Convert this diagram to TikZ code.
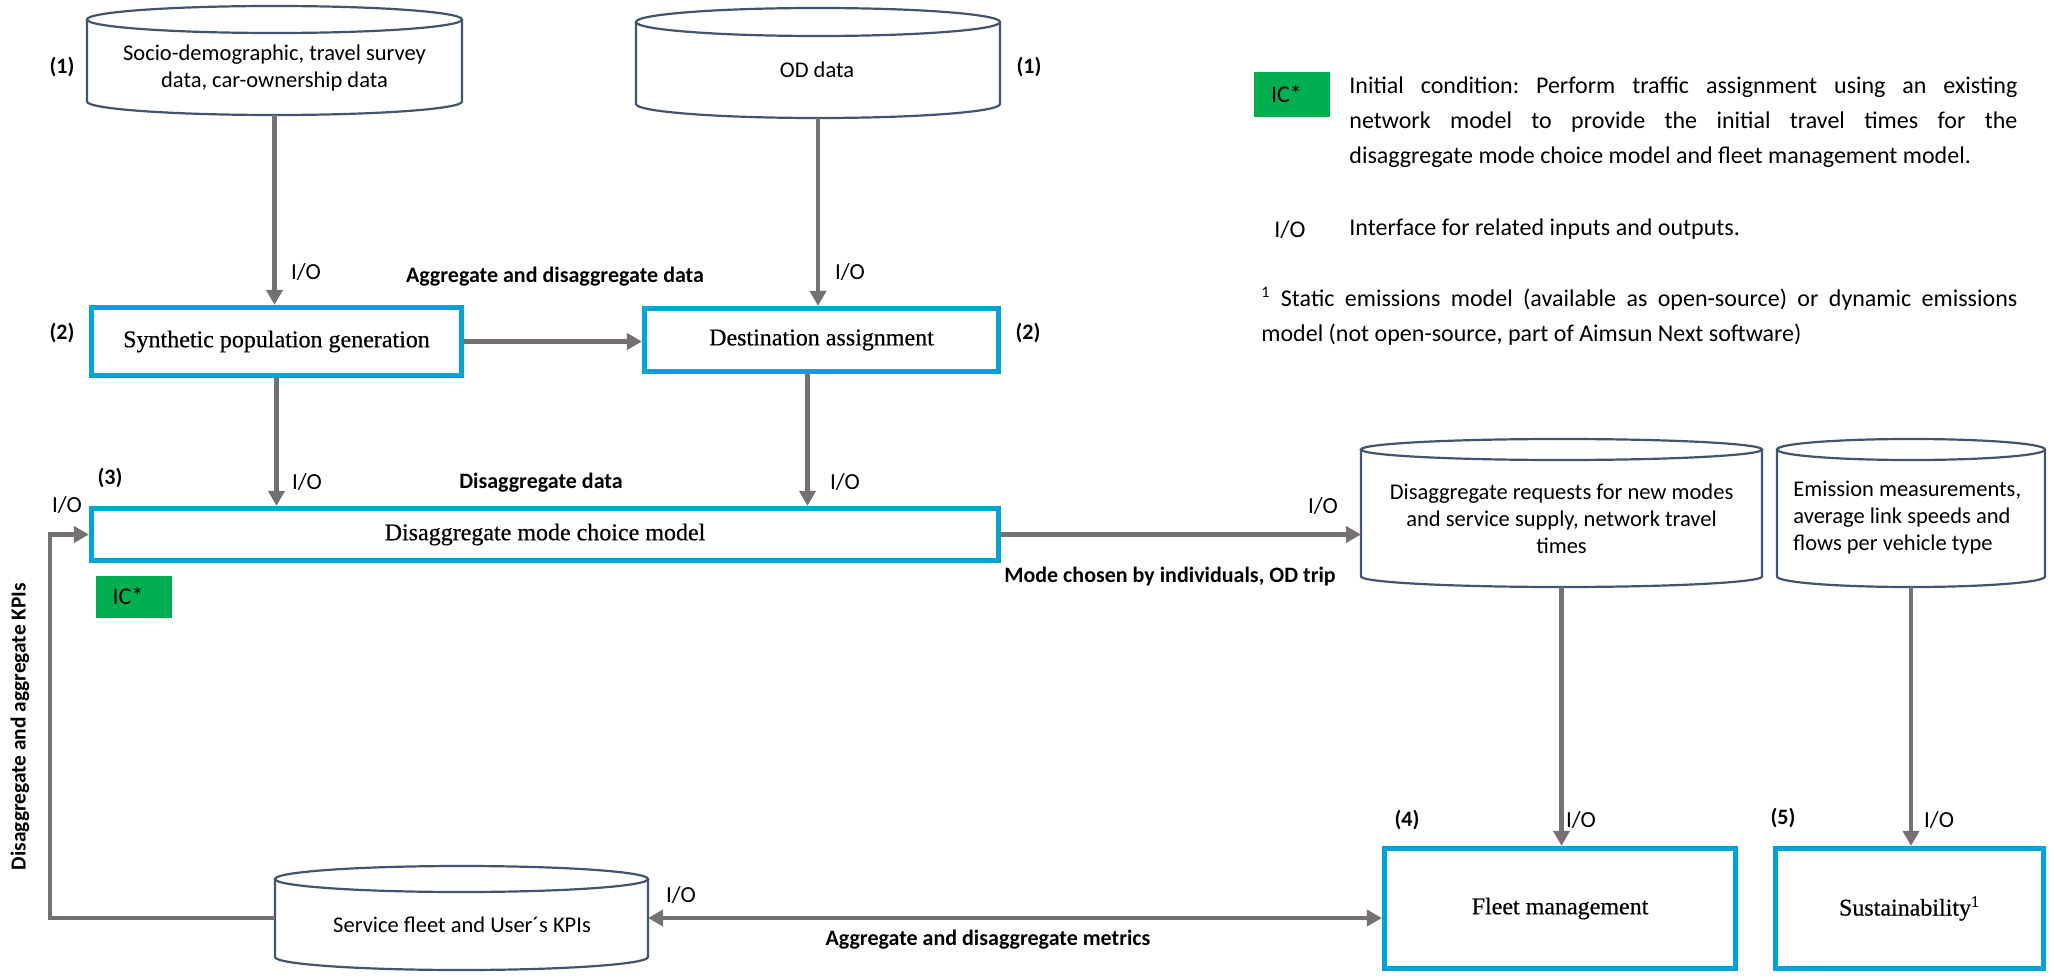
\documentclass[tikz,border=0pt]{standalone}
\usepackage{fontspec}
\setmainfont{Carlito}
\newfontfamily\boxserif{Liberation Serif}[FakeBold=0.5]
\usetikzlibrary{arrows.meta,fit}
\frenchspacing

\definecolor{boxblue}{RGB}{0,165,214}
\definecolor{flowgray}{RGB}{118,113,113}
\definecolor{cylblue}{RGB}{68,84,106}
\definecolor{icgreen}{RGB}{0,176,80}

% data store drawn as a cylinder: name, left, right, top, bottom, cap radius (px, y downward)
\newcommand{\datacyl}[6]{%
  \coordinate (#1-nw) at (#2,-#4);
  \coordinate (#1-se) at (#3,-#5);
  \node[fit=(#1-nw)(#1-se),inner sep=0pt,outer sep=0pt] (#1) {};
  \draw[cylline] (#2,{-(#4+#6)}) -- (#2,{-(#5-#6)})
    arc[start angle=180,end angle=360,x radius={(#3-#2)/2},y radius=#6]
    -- (#3,{-(#4+#6)});
  \draw[cylline] ({(#2+#3)/2},{-(#4+#6)}) ellipse[x radius={(#3-#2)/2},y radius=#6];
}

\begin{document}
\begin{tikzpicture}[x=0.5pt,y=0.5pt,
  module/.style={draw=boxblue,line width=2.6pt,fill=white,inner sep=0pt,
    font=\boxserif\fontsize{12}{14}\selectfont},
  cylline/.style={draw=cylblue,line width=1.1pt},
  cyltext/.style={font=\fontsize{11.25}{13.5}\selectfont,align=center,inner sep=0pt},
  flow/.style={draw=flowgray,line width=2.3pt,-{Triangle[length=7.5pt,width=8pt]}},
  flowboth/.style={draw=flowgray,line width=2.3pt,
    {Triangle[length=7.5pt,width=8pt]}-{Triangle[length=7.5pt,width=8pt]}},
  stage/.style={font=\bfseries\fontsize{11}{13}\selectfont,inner sep=0pt},
  iolabel/.style={font=\fontsize{11.5}{13}\selectfont,inner sep=0pt},
  flowlabel/.style={font=\bfseries\fontsize{11}{13}\selectfont,inner sep=0pt},
  icbox/.style={fill=icgreen,font=\fontsize{12}{14}\selectfont,align=left,
    inner ysep=0pt,inner xsep=8.5pt,text width=21pt,minimum height=21pt},
  legend/.style={font=\fontsize{12}{17.5}\selectfont,inner sep=0pt},
]
\fill[white] (0,0) rectangle (2054,-978);
\useasboundingbox (0,0) rectangle (2054,-978);

% ---------- data stores ----------
\datacyl{soc}{87}{462}{6}{115}{13.5}
\node[cyltext] (soc-text) at (274.5,-68.5) {Socio-demographic, travel survey\\data, car-ownership data};

\datacyl{od}{636}{1000}{8}{118}{14}
\node[cyltext] (od-text) at (817,-70) {OD data};

\datacyl{req}{1361}{1762}{439}{587}{10.5}
\node[cyltext] (req-text) at (1561.5,-519) {Disaggregate requests for new modes\\and service supply, network travel\\times};

\datacyl{emis}{1777}{2045}{439}{587}{10.5}
\node[cyltext,align=left,anchor=west] (emis-text) at (1793,-518) {Emission measurements,\\average link speeds and\\flows per vehicle type};

\datacyl{svc}{275}{648}{866}{970}{13}
\node[cyltext] (svc-text) at (462,-925) {Service fleet and User´s KPIs};

% ---------- model modules ----------
\node[module,minimum width=185pt,minimum height=34pt] (synth) at (276.5,-341.5) {Synthetic population generation};
\node[module,minimum width=177pt,minimum height=31.5pt] (dest) at (821.5,-340) {Destination assignment};
\node[module,minimum width=453.5pt,minimum height=26pt] (mode) at (545,-534.5) {Disaggregate mode choice model};
\node[module,minimum width=175.5pt,minimum height=60pt] (fleet) at (1560,-908.5) {Fleet management};
\node[module,minimum width=134pt,minimum height=60pt] (sust) at (1909.5,-908.5) {Sustainability\textsuperscript{1}};

\node[icbox] (ic-mode) at (133.5,-596.5) {IC*};

% ---------- stage numbers ----------
\node[stage] (n1a) at (62,-67) {(1)};
\node[stage] (n1b) at (1029,-67) {(1)};
\node[stage] (n2a) at (62,-333) {(2)};
\node[stage] (n2b) at (1028,-333) {(2)};
\node[stage] (n3) at (110,-478) {(3)};
\node[stage] (n4) at (1407,-820) {(4)};
\node[stage] (n5) at (1783,-818) {(5)};

% ---------- connectors ----------
\draw[flow] (soc.south) -- (soc.south |- synth.north);
\draw[flow] (od.south) -- (od.south |- dest.north);
\draw[flow] (synth.east) -- (synth.east -| dest.west);
\draw[flow] (synth.south) -- (synth.south |- mode.north);
\draw[flow] ([xshift=-7pt]dest.south) -- ([xshift=-7pt]dest.south |- mode.north);
\draw[flow] (mode.east) -- (mode.east -| req.west);
\draw[flow] (req.south) -- (req.south |- fleet.north);
\draw[flow] (emis.south) -- (emis.south |- sust.north);
\draw[flowboth] (svc.east) -- (svc.east -| fleet.west);
\coordinate (kpiturn) at (50,-918);
\draw[flow] (svc.west) -- (svc.west -| kpiturn) |- (mode.west);

% ---------- interface labels ----------
\node[iolabel] (io1) at (306,-272) {I/O};
\node[iolabel] (io2) at (850,-272) {I/O};
\node[iolabel] (io3) at (307,-482) {I/O};
\node[iolabel] (io4) at (845,-482) {I/O};
\node[iolabel] (io5) at (67,-505) {I/O};
\node[iolabel] (io6) at (1323,-506) {I/O};
\node[iolabel] (io7) at (1581,-820) {I/O};
\node[iolabel] (io8) at (1939,-820) {I/O};
\node[iolabel] (io9) at (681,-895) {I/O};

% ---------- flow descriptions ----------
\node[flowlabel] (lab-agg) at (555,-277) {Aggregate and disaggregate data};
\node[flowlabel] (lab-dis) at (541,-483) {Disaggregate data};
\node[flowlabel] (lab-mode) at (1170,-577) {Mode chosen by individuals, OD trip};
\node[flowlabel] (lab-met) at (988,-940) {Aggregate and disaggregate metrics};
\node[flowlabel,font=\bfseries\fontsize{10.7}{13}\selectfont,rotate=90] (lab-kpi) at (20,-726.5) {Disaggregate and aggregate KPIs};

% ---------- legend ----------
\node[icbox,minimum height=22.5pt,text width=21pt] (ic-key) at (1292,-94.5) {IC*};
\node[legend,anchor=north west,text width=334pt,align=justify] (ic-note) at (1349,-76)
  {Initial condition: Perform traffic assignment using an existing\linebreak
   network model to provide the initial travel times for the\linebreak
   disaggregate mode choice model and fleet management model.};
\node[legend] (io-key) at (1290,-230) {I/O};
\node[legend,anchor=base west] (io-note) at (1349,-236) {Interface for related inputs and outputs.};
\node[legend,anchor=north west,text width=378pt,align=justify] (fn-note) at (1261,-287)
  {\hangindent=7pt\hangafter=1 \textsuperscript{1} Static emissions model (available as open-source) or dynamic emissions\linebreak
   model (not open-source, part of Aimsun Next software)};
\end{tikzpicture}
\end{document}
